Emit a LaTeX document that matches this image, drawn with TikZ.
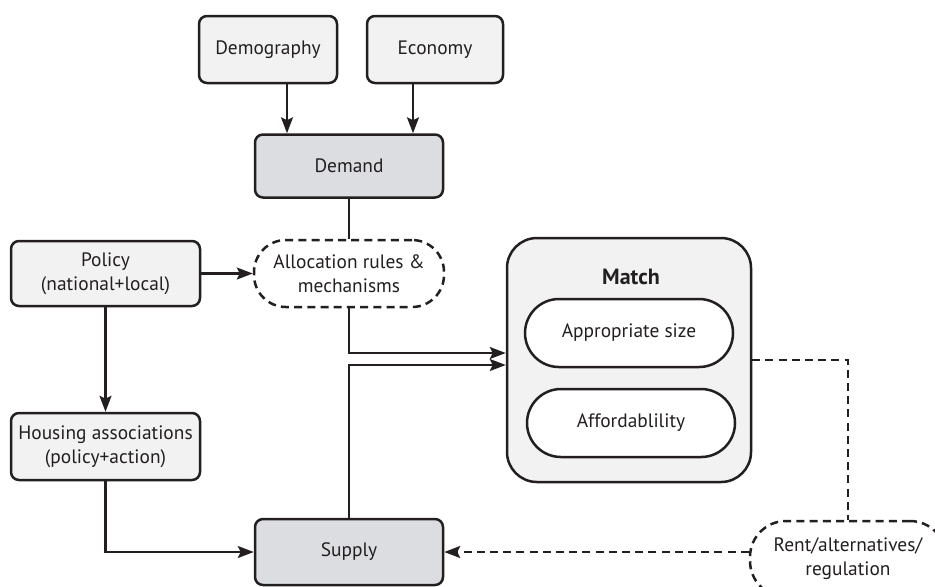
\documentclass[tikz,border=0pt]{standalone}
\usepackage{fontspec}
\setmainfont{PT Sans}
\usetikzlibrary{arrows.meta}
\definecolor{lightfill}{HTML}{F2F2F2}
\definecolor{darkfill}{HTML}{DCDDE0}
\definecolor{ink}{HTML}{231F20}
\begin{document}
\begin{tikzpicture}[x=0.5pt,y=-0.5pt,
  base/.style={draw=ink, line width=1.25pt, align=center, inner sep=0pt,
    font=\fontsize{9.7}{12}\selectfont, text=ink},
  box/.style={base, rounded corners=4pt, fill=lightfill},
  darkbox/.style={base, rounded corners=4pt, fill=darkfill},
  dashbox/.style={base, dash pattern=on 4pt off 2.6pt, rounded corners=16pt, fill=white},
  pill/.style={base, rounded corners=17pt, fill=white},
  bigbox/.style={base, rounded corners=15pt, fill=lightfill},
  conn/.style={draw=ink, line width=1.1pt},
  arr/.style={conn, -{Stealth[length=8pt,width=6pt,inset=1.5pt]}},
  dconn/.style={conn, dash pattern=on 4pt off 2.6pt},
  darr/.style={dconn, -{Stealth[length=8pt,width=6pt,inset=1.5pt]}}
]
\useasboundingbox (0,0) rectangle (935,586);
\clip (0,0) rectangle (935,586);

\node[box, minimum width=69pt, minimum height=33.5pt] (demo) at (268,49.5) {Demography};
\node[box, minimum width=68pt, minimum height=33.5pt] (econ) at (435,49.5) {Economy};
\node[darkbox, minimum width=94pt, minimum height=31.5pt] (demand) at (349,166) {Demand};
\node[box, minimum width=94.5pt, minimum height=32.5pt] (policy) at (105.5,273.5) {Policy\\(national+local)};
\node[dashbox, minimum width=95pt, minimum height=33.5pt] (alloc) at (349,273.5) {Allocation rules \&\\mechanisms};
\node[bigbox, minimum width=122pt, minimum height=122pt] (match) at (629,360) {};
\node[base, draw=none, font=\fontsize{11}{13}\selectfont\bfseries] (mtitle) at (631,277) {Match};
\node[pill, minimum width=104pt, minimum height=34pt] (approp) at (629,333) {Appropriate size};
\node[pill, minimum width=104pt, minimum height=34pt] (afford) at (631,423) {Affordablility};
\node[box, minimum width=94.5pt, minimum height=33.5pt] (housing) at (105.5,446.5) {Housing associations\\(policy+action)};
\node[darkbox, minimum width=94pt, minimum height=33pt] (supply) at (349,552) {Supply};
\node[dashbox, minimum width=98pt, minimum height=38pt, rounded corners=18pt] (rent) at (848,559) {Rent/alternatives/\\regulation};

\draw[arr] ([xshift=9.5pt]demo.south) -- ([xshift=9.5pt]demo.south |- demand.north);
\draw[arr] ([xshift=-11pt]econ.south) -- ([xshift=-11pt]econ.south |- demand.north);
\draw[conn] (demand.south) -- (alloc.north);
\draw[arr] (policy.east) -- (alloc.west);
\draw[arr] (alloc.south) |- ([yshift=3.5pt]match.west);
\draw[arr] (supply.north) |- ([yshift=-2.5pt]match.west);
\draw[arr] (policy.south) -- (housing.north);
\draw[arr] (housing.south) |- (supply.west);
\draw[dconn] (match.east) -| (rent.north);
\draw[darr] (rent.west |- supply.east) -- (supply.east);
\end{tikzpicture}
\end{document}
